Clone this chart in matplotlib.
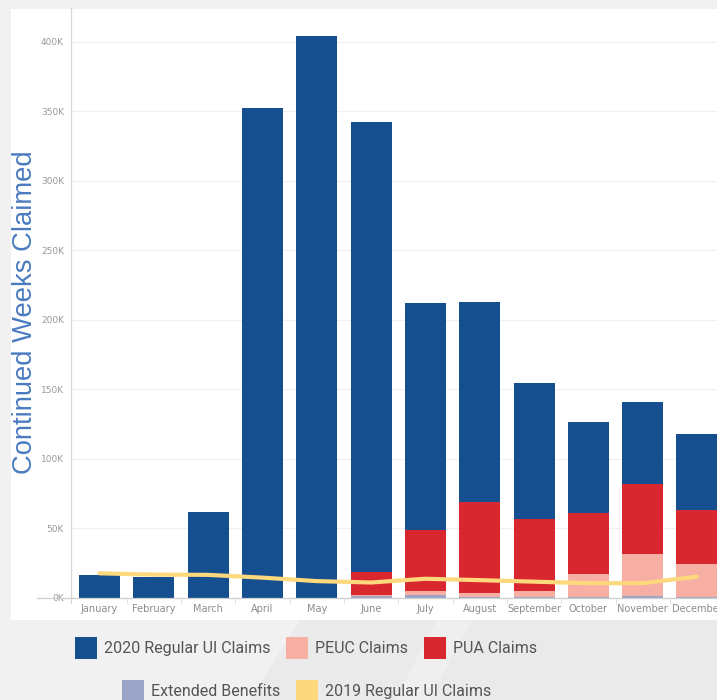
import matplotlib
matplotlib.use("Agg")
import matplotlib.pyplot as plt
from matplotlib import font_manager
from matplotlib.patches import Rectangle, Polygon, Patch
from matplotlib.lines import Line2D
import numpy as np

months = ["January", "February", "March", "April", "May", "June", "July",
          "August", "September", "October", "November", "December"]
# values in thousands of continued weeks claimed
extended = [0, 0, 0, 0, 0, 1.2, 1.9, 0.5, 0.5, 0.7, 1.3, 0.3]
peuc = [0, 0, 0, 0, 0, 0.3, 3.0, 2.8, 4.4, 16.2, 30.2, 23.8]
pua = [0, 0, 0, 0, 0, 17.0, 43.7, 65.5, 51.6, 43.9, 50.2, 38.9]
regular_2020 = [16.0, 15.0, 61.6, 352.4, 404.3, 323.8, 163.4, 143.9, 97.9, 65.5, 59.0, 54.7]
regular_2019 = [17.4, 16.5, 16.3, 14.3, 11.8, 10.8, 13.5, 12.5, 11.4, 10.3, 10.3, 15.0]

c_reg = "#164f8f"
c_peuc = "#f7afa3"
c_pua = "#d8272e"
c_ext = "#9ba3c7"
c_2019 = "#fdd87c"

names = {f.name for f in font_manager.fontManager.ttflist}
legend_font = "Liberation Sans Narrow" if "Liberation Sans Narrow" in names else "Roboto"
legend_size = 13.6 if legend_font == "Liberation Sans Narrow" else 11.5
em = legend_size * 100 / 72  # font size in pixels

fig = plt.figure(figsize=(7.17, 7.0), dpi=100)
fig.patch.set_facecolor("#f1f1f1")

# lighter/darker diagonal areas of the background, then the white card
fig.add_artist(Polygon([[250 / 717, 0], [1, 0], [1, 0.115], [300 / 717, 0.115]],
                       closed=True, transform=fig.transFigure,
                       facecolor="#eaeaea", edgecolor="none", zorder=-3))
fig.add_artist(Polygon([[395 / 717, 0], [430 / 717, 0], [472 / 717, 0.115], [437 / 717, 0.115]],
                       closed=True, transform=fig.transFigure,
                       facecolor="#efefef", edgecolor="none", zorder=-3))
fig.add_artist(Rectangle((11 / 717, 80 / 700), 706 / 717, 611 / 700,
                         transform=fig.transFigure, facecolor="white",
                         edgecolor="none", zorder=-2))

ax = fig.add_axes([71 / 717, 102.5 / 700, 654.5 / 717, 589.5 / 700])
ax.set_facecolor("none")

x = np.arange(len(months))
w = 0.755
b1 = np.array(extended)
b2 = b1 + np.array(peuc)
b3 = b2 + np.array(pua)
ax.bar(x, extended, w, color=c_ext, zorder=2)
ax.bar(x, peuc, w, bottom=b1, color=c_peuc, zorder=2)
ax.bar(x, pua, w, bottom=b2, color=c_pua, zorder=2)
ax.bar(x, regular_2020, w, bottom=b3, color=c_reg, zorder=2)
ax.plot(x, regular_2019, color=c_2019, lw=3.0, solid_joinstyle="round",
        solid_capstyle="round", zorder=3)

ax.set_xlim(-0.525, 11.525)
ax.set_ylim(0, 424.4)
ax.set_yticks(np.arange(0, 401, 50))
ax.set_yticklabels([f"{v}K" for v in range(0, 401, 50)])
ax.set_xticks(x)
ax.set_xticklabels(months)
ax.set_xticks(x[:-1] + 0.5, minor=True)
ax.tick_params(axis="y", length=0, pad=5, labelsize=6.5, labelcolor="#9a9a9a")
ax.tick_params(axis="x", which="major", length=0, pad=5, labelsize=7,
               labelcolor="#8c8c8c")
ax.tick_params(axis="x", which="minor", length=4, width=0.6, color="#dddddd")
ax.grid(axis="y", color="#efefef", lw=0.8, zorder=0)
for s in ["top", "right", "bottom", "left"]:
    ax.spines[s].set_visible(False)

# axis lines (baseline runs out under the 0K label, left axis drops below)
fig.add_artist(Line2D([37 / 717, 1.0], [102.5 / 700, 102.5 / 700],
                      transform=fig.transFigure, color="#cfcfcf", lw=0.9, zorder=1))
fig.add_artist(Line2D([71 / 717, 71 / 717], [97 / 700, 692 / 700],
                      transform=fig.transFigure, color="#d6d6d6", lw=0.9, zorder=1))

fig.text(25 / 717, 388 / 700, "Continued Weeks Claimed", rotation=90,
         ha="center", va="center", fontsize=19.7, color="#4a7bc0",
         family="Liberation Sans")

h1 = [Patch(facecolor=c_reg, label="2020 Regular UI Claims"),
      Patch(facecolor=c_peuc, label="PEUC Claims"),
      Patch(facecolor=c_pua, label="PUA Claims")]
h2 = [Patch(facecolor=c_ext, label="Extended Benefits"),
      Patch(facecolor=c_2019, label="2019 Regular UI Claims")]
lkw = dict(frameon=False, prop={"family": legend_font, "size": legend_size},
           labelcolor="#555555", handlelength=22 / em, handleheight=28 / em,
           handletextpad=7 / em, columnspacing=15.7 / em, borderpad=0, borderaxespad=0)
fig.legend(handles=h1, ncol=3, loc="center", bbox_to_anchor=(306 / 717, 52 / 700), **lkw)
fig.legend(handles=h2, ncol=2, loc="center", bbox_to_anchor=(307 / 717, 9.3 / 700), **lkw)

fig.savefig("out.png", dpi=100, facecolor=fig.get_facecolor())
